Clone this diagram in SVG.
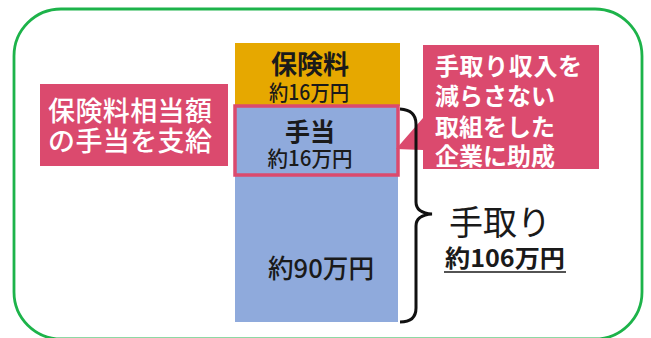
<svg xmlns="http://www.w3.org/2000/svg" width="651" height="338" viewBox="0 0 651 338">
<style>
.jp{font-family:"Noto Sans CJK JP","Noto Sans",sans-serif;}
.blk{fill:#1a1a1a;}
.wht{fill:#ffffff;}
.pink{fill:#DB4A6E;}
</style>
<rect x="0" y="0" width="651" height="338" fill="#ffffff"/>
<rect x="14" y="9" width="628" height="330" rx="47" ry="47" fill="none" stroke="#1DB34A" stroke-width="2.8"/>
<g id="insurance">
<rect x="235" y="43" width="165" height="63" fill="#E6A800"/>
<text class="jp blk" x="310" y="74" font-size="26" font-weight="700" text-anchor="middle">保険料</text>
<text class="jp blk" x="309" y="100" font-size="21" font-weight="500" text-anchor="middle" textLength="80" lengthAdjust="spacingAndGlyphs">約16万円</text>
</g>
<g id="takehome">
<rect x="235" y="106" width="163" height="216" fill="#8FAADC"/>
<text class="jp blk" x="321" y="278" font-size="26" font-weight="500" text-anchor="middle" textLength="106" lengthAdjust="spacingAndGlyphs">約90万円</text>
</g>
<g id="allowance">
<rect x="235" y="106" width="163" height="69" fill="#8FAADC" stroke="#DB4A6E" stroke-width="3.5"/>
<text class="jp blk" x="310" y="141" font-size="25" font-weight="700" text-anchor="middle">手当</text>
<text class="jp blk" x="310" y="166" font-size="21" font-weight="500" text-anchor="middle" textLength="85" lengthAdjust="spacingAndGlyphs">約16万円</text>
</g>
<g id="left-note">
<rect x="40" y="84" width="188" height="82" class="pink"/>
<text class="jp wht" x="130" y="121" font-size="27" font-weight="500" text-anchor="middle" textLength="164">保険料相当額</text>
<text class="jp wht" x="130" y="151" font-size="27" font-weight="500" text-anchor="middle" textLength="164">の手当を支給</text>
</g>
<g id="right-note">
<rect x="423" y="45" width="176" height="124" class="pink"/>
<text class="jp wht" x="435" y="75" font-size="24" font-weight="700" textLength="147">手取り収入を</text>
<text class="jp wht" x="435" y="105" font-size="24" font-weight="700">減らさない</text>
<text class="jp wht" x="435" y="136" font-size="24" font-weight="700">取組をした</text>
<text class="jp wht" x="435" y="165" font-size="24" font-weight="700">企業に助成</text>
</g>
<g id="total">
<text class="jp blk" x="500" y="235" font-size="34" font-weight="400" text-anchor="middle">手取り</text>
<text class="jp blk" x="505" y="267" font-size="24" font-weight="700" text-anchor="middle" textLength="120" lengthAdjust="spacingAndGlyphs">約106万円</text>
<line x1="444" y1="272" x2="566" y2="272" stroke="#1a1a1a" stroke-width="1.5"/>
</g>
<g id="connectors">
<polygon points="423,118 396,149 423,150" class="pink"/>
<path d="M400,109 Q416,110 416,124 L416,202 Q416,213 432,214 Q416,215 416,226 L416,308 Q416,322 400,322" fill="none" stroke="#111111" stroke-width="3"/>
</g>
</svg>
